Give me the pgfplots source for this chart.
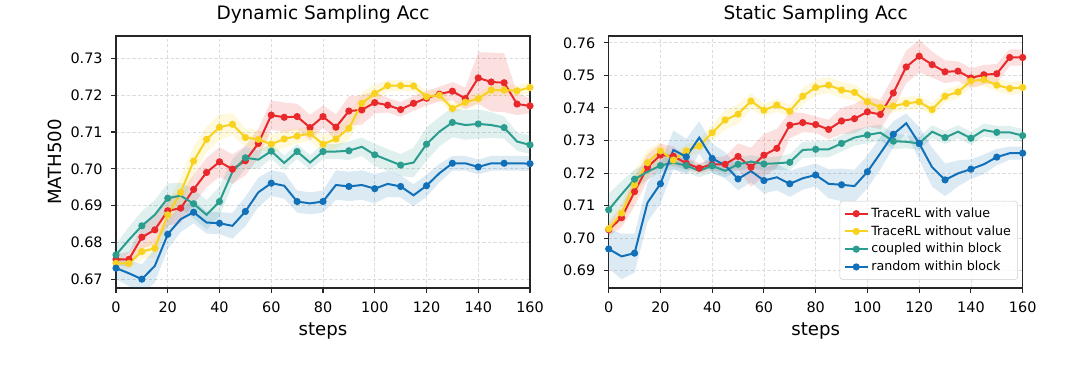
\documentclass[border=0pt]{standalone}
\usepackage{fontspec}
\setmainfont{DejaVu Sans}
\usepackage{pgfplots}
\usepackage{pgfplotstable}
\pgfplotsset{compat=1.18}
\usepgfplotslibrary{fillbetween}

\definecolor{cred}{HTML}{E8282B}
\definecolor{cyel}{HTML}{F8D21E}
\definecolor{cgrn}{HTML}{2A9D8F}
\definecolor{cblu}{HTML}{1170B8}

\pgfplotstableread{
x y e
0 0.6754 0.0015
5 0.6754 0.0020
10 0.6814 0.0030
15 0.6834 0.0040
20 0.6886 0.0040
25 0.6893 0.0040
30 0.6944 0.0040
35 0.6990 0.0040
40 0.7019 0.0040
45 0.6999 0.0040
50 0.7022 0.0040
55 0.7069 0.0040
60 0.7146 0.0040
65 0.7140 0.0040
70 0.7142 0.0035
75 0.7112 0.0035
80 0.7142 0.0030
85 0.7113 0.0035
90 0.7157 0.0040
95 0.7160 0.0040
100 0.7180 0.0030
105 0.7173 0.0020
110 0.7161 0.0020
115 0.7178 0.0020
120 0.7192 0.0020
125 0.7203 0.0020
130 0.7211 0.0025
135 0.7191 0.0030
140 0.7247 0.0070
145 0.7236 0.0080
150 0.7234 0.0080
155 0.7176 0.0030
160 0.7171 0.0020
}\LR

\pgfplotstableread{
x y e
0 0.6743 0.0015
5 0.6743 0.0015
10 0.6775 0.0020
15 0.6784 0.0025
20 0.6875 0.0035
25 0.6936 0.0040
30 0.7021 0.0040
35 0.7080 0.0035
40 0.7113 0.0035
45 0.7121 0.0030
50 0.7085 0.0025
55 0.7080 0.0025
60 0.7067 0.0025
65 0.7081 0.0025
70 0.7089 0.0020
75 0.7096 0.0020
80 0.7067 0.0025
85 0.7081 0.0025
90 0.7110 0.0030
95 0.7178 0.0030
100 0.7205 0.0025
105 0.7226 0.0015
110 0.7226 0.0015
115 0.7225 0.0015
120 0.7196 0.0015
125 0.7200 0.0015
130 0.7164 0.0015
135 0.7181 0.0015
140 0.7191 0.0015
145 0.7214 0.0015
150 0.7214 0.0015
155 0.7212 0.0015
160 0.7221 0.0015
}\LY

\pgfplotstableread{
x y e
0 0.6766 0.0030
5 0.6807 0.0035
10 0.6845 0.0040
15 0.6875 0.0040
20 0.6920 0.0040
25 0.6927 0.0035
30 0.6905 0.0040
35 0.6875 0.0040
40 0.6911 0.0040
45 0.6992 0.0035
50 0.7030 0.0030
55 0.7025 0.0025
60 0.7048 0.0020
65 0.7016 0.0020
70 0.7047 0.0020
75 0.7017 0.0020
80 0.7047 0.0020
85 0.7047 0.0020
90 0.7049 0.0025
95 0.7060 0.0025
100 0.7038 0.0030
105 0.7024 0.0030
110 0.7010 0.0030
115 0.7017 0.0040
120 0.7067 0.0045
125 0.7101 0.0040
130 0.7126 0.0040
135 0.7119 0.0040
140 0.7122 0.0040
145 0.7119 0.0035
150 0.7112 0.0030
155 0.7074 0.0025
160 0.7065 0.0025
}\LG

\pgfplotstableread{
x y e
0 0.6730 0.0030
5 0.6716 0.0035
10 0.6700 0.0040
15 0.6736 0.0045
20 0.6822 0.0040
25 0.6863 0.0035
30 0.6882 0.0030
35 0.6854 0.0030
40 0.6852 0.0030
45 0.6845 0.0035
50 0.6884 0.0040
55 0.6936 0.0040
60 0.6961 0.0035
65 0.6954 0.0035
70 0.6911 0.0030
75 0.6906 0.0030
80 0.6911 0.0030
85 0.6956 0.0040
90 0.6952 0.0040
95 0.6956 0.0040
100 0.6946 0.0040
105 0.6959 0.0035
110 0.6952 0.0030
115 0.6928 0.0030
120 0.6954 0.0030
125 0.6988 0.0025
130 0.7015 0.0020
135 0.7015 0.0020
140 0.7005 0.0020
145 0.7015 0.0020
150 0.7015 0.0020
155 0.7015 0.0020
160 0.7014 0.0020
}\LB

\pgfplotstableread{
x y e
0 0.7026 0.0020
5 0.7063 0.0030
10 0.7143 0.0045
15 0.7218 0.0040
20 0.7255 0.0035
25 0.7252 0.0030
30 0.7230 0.0020
35 0.7215 0.0015
40 0.7227 0.0020
45 0.7227 0.0025
50 0.7251 0.0040
55 0.7218 0.0060
60 0.7255 0.0065
65 0.7276 0.0060
70 0.7347 0.0040
75 0.7355 0.0030
80 0.7349 0.0025
85 0.7334 0.0030
90 0.7360 0.0040
95 0.7367 0.0045
100 0.7388 0.0045
105 0.7380 0.0045
110 0.7446 0.0050
115 0.7526 0.0050
120 0.7559 0.0050
125 0.7533 0.0040
130 0.7511 0.0035
135 0.7513 0.0030
140 0.7492 0.0030
145 0.7502 0.0030
150 0.7505 0.0030
155 0.7555 0.0025
160 0.7555 0.0025
}\RR

\pgfplotstableread{
x y e
0 0.7029 0.0020
5 0.7077 0.0030
10 0.7164 0.0045
15 0.7232 0.0040
20 0.7268 0.0025
25 0.7240 0.0020
30 0.7268 0.0020
35 0.7283 0.0020
40 0.7324 0.0025
45 0.7363 0.0030
50 0.7381 0.0030
55 0.7421 0.0025
60 0.7393 0.0020
65 0.7409 0.0020
70 0.7390 0.0020
75 0.7436 0.0025
80 0.7463 0.0025
85 0.7470 0.0025
90 0.7455 0.0025
95 0.7448 0.0025
100 0.7419 0.0025
105 0.7402 0.0020
110 0.7406 0.0020
115 0.7414 0.0020
120 0.7419 0.0020
125 0.7395 0.0020
130 0.7436 0.0020
135 0.7449 0.0020
140 0.7483 0.0020
145 0.7487 0.0020
150 0.7470 0.0020
155 0.7460 0.0020
160 0.7463 0.0020
}\RY

\pgfplotstableread{
x y e
0 0.7087 0.0050
5 0.7135 0.0040
10 0.7181 0.0030
15 0.7204 0.0025
20 0.7223 0.0020
25 0.7232 0.0020
30 0.7223 0.0020
35 0.7207 0.0020
40 0.7222 0.0020
45 0.7207 0.0020
50 0.7227 0.0020
55 0.7235 0.0020
60 0.7228 0.0020
65 0.7230 0.0020
70 0.7233 0.0025
75 0.7271 0.0025
80 0.7273 0.0025
85 0.7273 0.0025
90 0.7291 0.0025
95 0.7309 0.0025
100 0.7317 0.0025
105 0.7324 0.0025
110 0.7298 0.0025
115 0.7296 0.0020
120 0.7291 0.0020
125 0.7327 0.0020
130 0.7309 0.0020
135 0.7327 0.0020
140 0.7307 0.0020
145 0.7332 0.0020
150 0.7325 0.0020
155 0.7325 0.0020
160 0.7315 0.0020
}\RG

\pgfplotstableread{
x y e
0 0.6967 0.0060
5 0.6944 0.0070
10 0.6954 0.0060
15 0.7109 0.0060
20 0.7167 0.0060
25 0.7271 0.0060
30 0.7250 0.0055
35 0.7309 0.0050
40 0.7245 0.0045
45 0.7224 0.0040
50 0.7182 0.0035
55 0.7206 0.0035
60 0.7177 0.0040
65 0.7187 0.0040
70 0.7167 0.0040
75 0.7184 0.0035
80 0.7194 0.0035
85 0.7167 0.0045
90 0.7164 0.0050
95 0.7160 0.0050
100 0.7204 0.0050
105 0.7261 0.0050
110 0.7319 0.0040
115 0.7353 0.0030
120 0.7291 0.0050
125 0.7218 0.0060
130 0.7179 0.0050
135 0.7199 0.0040
140 0.7212 0.0030
145 0.7227 0.0030
150 0.7249 0.0025
155 0.7261 0.0020
160 0.7261 0.0020
}\RB

\newcommand{\band}[3]{%
  \addplot[draw=none, forget plot, name path=#3u] table[x=x, y expr=\thisrow{y}+\thisrow{e}] {#1};
  \addplot[draw=none, forget plot, name path=#3l] table[x=x, y expr=\thisrow{y}-\thisrow{e}] {#1};
  \addplot[fill=#2, fill opacity=0.15, draw=none, forget plot] fill between[of=#3u and #3l];
}

\pgfplotsset{
  common/.style={
    scale only axis, width=310.5pt, height=189pt,
    xmin=0, xmax=160, xtick={0,20,40,60,80,100,120,140,160},
    tick pos=left,
    grid=major,
    major grid style={dash pattern=on 2.5pt off 1.6pt, gray!28, line width=0.6pt},
    axis line style={black!85, line width=0.8pt},
    tick align=outside, major tick length=3.5pt,
    every tick/.style={black!85, line width=0.8pt},
    tick label style={font=\fontsize{10.8}{13}\selectfont},
    /pgf/number format/assume math mode=true,
    yticklabel style={/pgf/number format/fixed, /pgf/number format/precision=2, /pgf/number format/fixed zerofill},
    title style={font=\fontsize{13.9}{16}\selectfont, at={(0.5,1)}, anchor=south},
    xlabel={steps},
    xlabel style={font=\fontsize{13.6}{16}\selectfont, at={(axis description cs:0.5,-0.1693)}, anchor=center},
    ylabel style={font=\fontsize{13.6}{16}\selectfont, at={(axis description cs:-0.1485,0.5)}, anchor=center},
    xticklabel style={yshift=-3pt},
    yticklabel style={xshift=-3pt},
  },
  ln/.style={line width=1.5pt, color=#1, mark=*, mark size=1.9pt, mark options={solid, fill=#1, draw=#1}},
}

\begin{document}
\begin{tikzpicture}
\begin{axis}[common, at={(87pt,59.25pt)}, anchor=south west,
  title={Dynamic Sampling Acc}, ylabel={MATH500},
  ymin=0.6676, ymax=0.7361,
  ytick={0.67,0.68,0.69,0.70,0.71,0.72,0.73}]
  \band{\LR}{cred}{lr}
  \band{\LY}{cyel}{ly}
  \band{\LG}{cgrn}{lg}
  \band{\LB}{cblu}{lb}
  \addplot[ln=cred] table[x=x,y=y] {\LR};
  \addplot[ln=cyel] table[x=x,y=y] {\LY};
  \addplot[ln=cgrn, mark repeat=2] table[x=x,y=y] {\LG};
  \addplot[ln=cblu, mark repeat=2] table[x=x,y=y] {\LB};
\end{axis}
\begin{axis}[common, at={(456.5pt,59.25pt)}, anchor=south west,
  title={Static Sampling Acc},
  ymin=0.6847, ymax=0.7621,
  ytick={0.69,0.70,0.71,0.72,0.73,0.74,0.75,0.76},
  legend cell align=left,
  legend style={at={(0.9886,0.033)}, anchor=south east, draw=black!20, rounded corners=2pt,
    fill=white, fill opacity=0.8, text opacity=1, draw opacity=1,
    font=\fontsize{9.5}{11}\selectfont, row sep=0.6pt, inner sep=3pt}]
  \band{\RR}{cred}{rr}
  \band{\RY}{cyel}{ry}
  \band{\RG}{cgrn}{rg}
  \band{\RB}{cblu}{rb}
  \addplot[ln=cred] table[x=x,y=y] {\RR};
  \addlegendentry{TraceRL with value}
  \addplot[ln=cyel] table[x=x,y=y] {\RY};
  \addlegendentry{TraceRL without value}
  \addplot[ln=cgrn, mark repeat=2] table[x=x,y=y] {\RG};
  \addlegendentry{coupled within block}
  \addplot[ln=cblu, mark repeat=2] table[x=x,y=y] {\RB};
  \addlegendentry{random within block}
\end{axis}
\pgfresetboundingbox
\useasboundingbox (0,0) rectangle (810pt,275.25pt);
\end{tikzpicture}
\end{document}
